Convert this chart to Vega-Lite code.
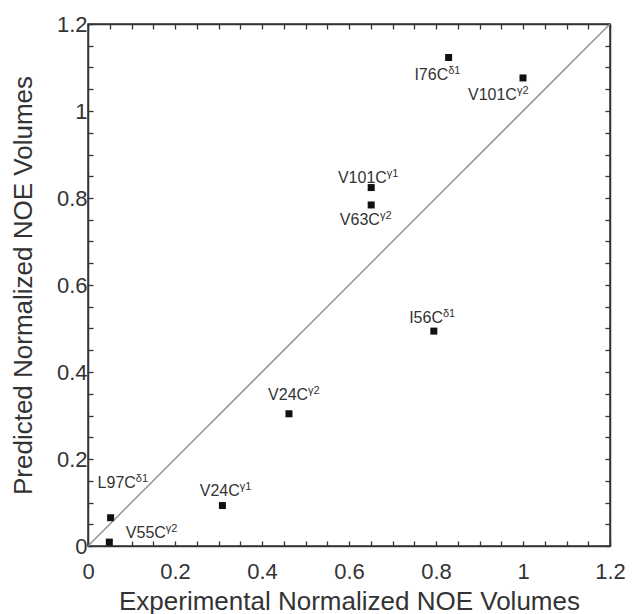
{
  "$schema": "https://vega.github.io/schema/vega-lite/v6.json",
  "width": 522,
  "height": 522,
  "autosize": {"type": "none"},
  "padding": {"left": 88, "top": 24, "right": 23, "bottom": 68},
  "config": {
    "view": {"stroke": "#333333", "strokeWidth": 1.5},
    "font": "Liberation Sans"
  },
  "data": {
    "values": [
      {"name": "I76C", "sup": "δ1", "x": 0.829, "y": 1.123, "lx": 0.828, "ly": 1.071},
      {"name": "V101C", "sup": "γ2", "x": 1.0, "y": 1.076, "lx": 0.986, "ly": 1.025},
      {"name": "V101C", "sup": "γ1", "x": 0.651, "y": 0.824, "lx": 0.687, "ly": 0.835},
      {"name": "V63C", "sup": "γ2", "x": 0.651, "y": 0.784, "lx": 0.671, "ly": 0.738},
      {"name": "I56C", "sup": "δ1", "x": 0.795, "y": 0.494, "lx": 0.816, "ly": 0.513},
      {"name": "V24C", "sup": "γ2", "x": 0.462, "y": 0.304, "lx": 0.506, "ly": 0.336},
      {"name": "V24C", "sup": "γ1", "x": 0.309, "y": 0.093, "lx": 0.349, "ly": 0.115},
      {"name": "L97C", "sup": "δ1", "x": 0.052, "y": 0.065, "lx": 0.110, "ly": 0.133},
      {"name": "V55C", "sup": "γ2", "x": 0.049, "y": 0.009, "lx": 0.179, "ly": 0.018}
    ]
  },
  "resolve": {"axis": {"x": "independent", "y": "independent"}},
  "layer": [
    {
      "data": {"values": [{}]},
      "mark": {"type": "rule", "color": "#8a8a8a", "strokeWidth": 1.3},
      "encoding": {
        "x": {"datum": 0, "type": "quantitative", "scale": {"domain": [0, 1.2], "nice": false},
          "axis": {"orient": "top", "values": [0,0.05,0.1,0.15,0.2,0.25,0.3,0.35,0.4,0.45,0.5,0.55,0.6,0.65,0.7,0.75,0.8,0.85,0.9,0.95,1,1.05,1.1,1.15,1.2],
            "labels": false, "title": null, "tickSize": -5, "tickColor": "#333333", "tickWidth": 1.3, "domainColor": "#333333", "domainWidth": 1.5, "grid": false}},
        "y": {"datum": 0, "type": "quantitative", "scale": {"domain": [0, 1.2], "nice": false},
          "axis": {"orient": "right", "values": [0,0.05,0.1,0.15,0.2,0.25,0.3,0.35,0.4,0.45,0.5,0.55,0.6,0.65,0.7,0.75,0.8,0.85,0.9,0.95,1,1.05,1.1,1.15,1.2],
            "labels": false, "title": null, "tickSize": -5, "tickColor": "#333333", "tickWidth": 1.3, "domainColor": "#333333", "domainWidth": 1.5, "grid": false}},
        "x2": {"datum": 1.2},
        "y2": {"datum": 1.2}
      }
    },
    {
      "mark": {"type": "square", "filled": true, "color": "#111111", "size": 49, "opacity": 1},
      "encoding": {
        "x": {"field": "x", "type": "quantitative", "scale": {"domain": [0, 1.2], "nice": false},
          "axis": {"orient": "bottom", "values": [0,0.05,0.1,0.15,0.2,0.25,0.3,0.35,0.4,0.45,0.5,0.55,0.6,0.65,0.7,0.75,0.8,0.85,0.9,0.95,1,1.05,1.1,1.15,1.2],
            "labelExpr": "abs(datum.value*5 - round(datum.value*5)) < 0.001 ? format(datum.value, '.1~f') : ''",
            "labelOverlap": false, "labelFlush": false, "labelFontSize": 22, "labelColor": "#333333", "labelPadding": 20,
            "tickSize": -5, "tickColor": "#333333", "tickWidth": 1.3, "domainColor": "#333333", "domainWidth": 1.5, "grid": false,
            "title": "Experimental Normalized NOE Volumes", "titleFontSize": 26, "titleFontWeight": "normal", "titleColor": "#333333", "titlePadding": 6}},
        "y": {"field": "y", "type": "quantitative", "scale": {"domain": [0, 1.2], "nice": false},
          "axis": {"orient": "left", "values": [0,0.05,0.1,0.15,0.2,0.25,0.3,0.35,0.4,0.45,0.5,0.55,0.6,0.65,0.7,0.75,0.8,0.85,0.9,0.95,1,1.05,1.1,1.15,1.2],
            "labelExpr": "abs(datum.value*5 - round(datum.value*5)) < 0.001 ? format(datum.value, '.1~f') : ''",
            "labelOverlap": false, "labelFlush": false, "labelFontSize": 22, "labelColor": "#333333", "labelPadding": 6,
            "tickSize": -5, "tickColor": "#333333", "tickWidth": 1.3, "domainColor": "#333333", "domainWidth": 1.5, "grid": false,
            "title": "Predicted Normalized NOE Volumes", "titleFontSize": 26, "titleFontWeight": "normal", "titleColor": "#333333", "titlePadding": 20}}
      }
    },
    {
      "mark": {"type": "text", "align": "right", "baseline": "alphabetic", "fontSize": 16, "color": "#333333"},
      "encoding": {
        "x": {"field": "lx", "type": "quantitative", "axis": null},
        "y": {"field": "ly", "type": "quantitative", "axis": null},
        "text": {"field": "name"}
      }
    },
    {
      "mark": {"type": "text", "align": "left", "baseline": "alphabetic", "fontSize": 11, "dy": -6, "color": "#333333"},
      "encoding": {
        "x": {"field": "lx", "type": "quantitative", "axis": null},
        "y": {"field": "ly", "type": "quantitative", "axis": null},
        "text": {"field": "sup"}
      }
    }
  ]
}
